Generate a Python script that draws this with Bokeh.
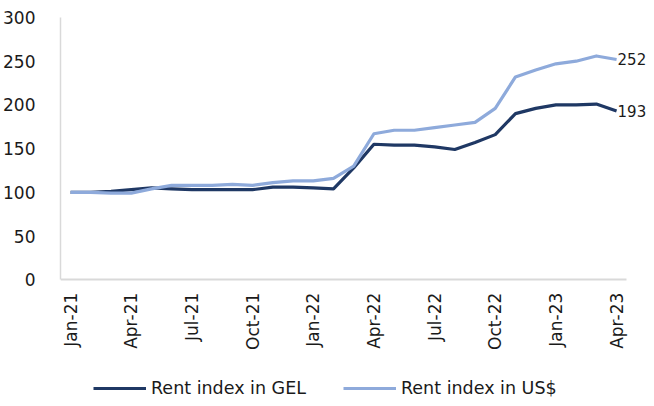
import numpy as np
from bokeh.plotting import figure
from bokeh.models import Range1d, FixedTicker, Legend, LegendItem, Label
from bokeh.embed import file_html
from bokeh.resources import INLINE

months = ["Jan-21", "Feb-21", "Mar-21", "Apr-21", "May-21", "Jun-21", "Jul-21",
          "Aug-21", "Sep-21", "Oct-21", "Nov-21", "Dec-21", "Jan-22", "Feb-22",
          "Mar-22", "Apr-22", "May-22", "Jun-22", "Jul-22", "Aug-22", "Sep-22",
          "Oct-22", "Nov-22", "Dec-22", "Jan-23", "Feb-23", "Mar-23", "Apr-23"]
rent_gel = [100, 100, 101, 103, 105, 104, 103, 103, 103, 103, 106, 106, 105, 104,
            128, 155, 154, 154, 152, 149, 157, 166, 190, 196, 200, 200, 201, 193]
rent_usd = [100, 100, 99, 99, 104, 108, 108, 108, 109, 108, 111, 113, 113, 116,
            130, 167, 171, 171, 174, 177, 180, 196, 232, 240, 247, 250, 256, 252]
y_ticks = [0, 50, 100, 150, 200, 250, 300]

FONT = "DejaVu Sans"
TXT = "#1a1a1a"
DARK = "#1f3864"
LIGHT = "#8eaadb"
AXIS = "#d9d9d9"

x = list(range(len(months)))

# frame covers the whole area below the plot so that tick labels, legend and
# end labels are drawn inside it; the x axis sits at y = 0 via fixed_location
p = figure(width=646, height=398, output_backend="svg", toolbar_location=None,
           x_range=Range1d(-0.5, 28.48), y_range=Range1d(-135.9, 300))
p.min_border_left = 54
p.min_border_right = 0
p.min_border_top = 17
p.min_border_bottom = 0
p.outline_line_color = None
p.xgrid.grid_line_color = None
p.ygrid.grid_line_color = None

r1 = p.line(x, rent_gel, line_color=DARK, line_width=3.2, line_join="round")
r2 = p.line(x, rent_usd, line_color=LIGHT, line_width=3.2, line_join="round")

p.yaxis.ticker = FixedTicker(ticks=y_ticks)
p.yaxis.bounds = (0, 300)
p.yaxis.axis_line_color = AXIS
p.yaxis.axis_line_width = 1.5
p.yaxis.major_tick_line_color = None
p.yaxis.minor_tick_line_color = None
p.yaxis.major_label_standoff = 19
p.yaxis.major_label_text_font = FONT
p.yaxis.major_label_text_font_size = "17px"
p.yaxis.major_label_text_color = TXT

p.xaxis.fixed_location = 0
p.xaxis.bounds = (-0.5, len(months) - 0.5)
p.xaxis.ticker = FixedTicker(ticks=x[::3])
p.xaxis.major_label_overrides = {i: months[i] for i in x[::3]}
p.xaxis.axis_line_color = AXIS
p.xaxis.axis_line_width = 2
p.xaxis.major_tick_line_color = None
p.xaxis.minor_tick_line_color = None
p.xaxis.major_label_orientation = np.pi / 2
p.xaxis.major_label_standoff = 7
p.xaxis.major_label_text_font = FONT
p.xaxis.major_label_text_font_size = "17px"
p.xaxis.major_label_text_color = TXT

for val in [rent_usd[-1], rent_gel[-1]]:
    p.add_layout(Label(x=x[-1], y=val, text=str(val), x_offset=1, text_baseline="middle",
                       text_font=FONT, text_font_size="15px", text_color=TXT))

legend = Legend(items=[LegendItem(label="Rent index in GEL", renderers=[r1]),
                       LegendItem(label="Rent index in US$", renderers=[r2])],
                orientation="horizontal", location=(33, 0))
legend.border_line_color = None
legend.background_fill_alpha = 0
legend.label_text_font = FONT
legend.label_text_font_size = "17.5px"
legend.label_text_color = TXT
legend.glyph_width = 53
legend.glyph_height = 14
legend.label_height = 14
legend.label_standoff = 5
legend.spacing = 37
legend.padding = 0
legend.margin = 0
p.add_layout(legend, "center")

open("out.html", "w").write(file_html(p, INLINE))
